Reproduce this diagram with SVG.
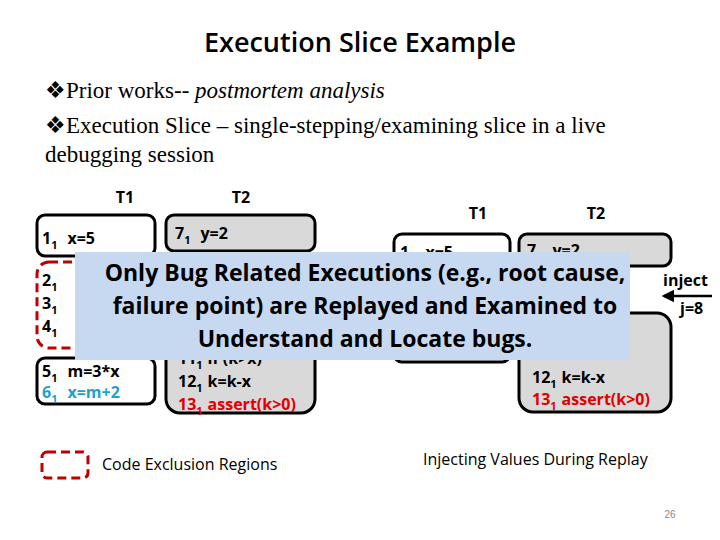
<svg xmlns="http://www.w3.org/2000/svg" width="720" height="540" viewBox="0 0 720 540">
<style>
.c{font-family:"Open Sans","Liberation Sans",sans-serif;font-weight:bold;font-size:16px;fill:#000}
.t{font-family:"Liberation Serif",serif;font-size:23px;fill:#000}
.w{fill:#fff;stroke:#000;stroke-width:3}
.g{fill:#d9d9d9;stroke:#000;stroke-width:3}
.s{font-size:11px}
.o{font-family:"Open Sans","Liberation Sans",sans-serif;font-weight:bold;font-size:23px}
</style>
<defs><marker id="a" markerWidth="5" markerHeight="5" refX="4" refY="2.5" orient="auto"><path d="M0,0L5,2.5L0,5z" fill="#000"/></marker></defs>
<rect width="720" height="540" fill="#fff"/>
<text x="360" y="52" text-anchor="middle" font-family="Open Sans,Liberation Sans,sans-serif" font-weight="600" font-size="27">Execution Slice Example</text>
<text class="t" x="45" y="98">❖Prior works-- <tspan font-style="italic">postmortem analysis</tspan></text>
<text class="t" x="45" y="133">❖Execution Slice – single-stepping/examining slice in a live</text>
<text class="t" x="45" y="162">debugging session</text>
<g id="left">
<text class="c" x="125" y="203" text-anchor="middle">T1</text>
<text class="c" x="241" y="203" text-anchor="middle">T2</text>
<rect class="w" x="37" y="215" width="118" height="41" rx="8"/>
<text class="c" x="42" y="244">1<tspan class="s" dy="5">1</tspan><tspan dy="-5" dx="10">x=5</tspan></text>
<rect x="37" y="262" width="118" height="86" rx="12" fill="#fff" stroke="#c00000" stroke-width="3" stroke-dasharray="9,5"/>
<text class="c" x="42" y="286">2<tspan class="s" dy="5">1</tspan></text>
<text class="c" x="42" y="309">3<tspan class="s" dy="5">1</tspan></text>
<text class="c" x="42" y="332">4<tspan class="s" dy="5">1</tspan></text>
<rect class="w" x="37" y="358" width="118" height="46" rx="8"/>
<text class="c" x="42" y="377">5<tspan class="s" dy="5">1</tspan><tspan dy="-5" dx="10">m=3*x</tspan></text>
<text class="c" x="42" y="398" style="fill:#1fa0d0">6<tspan class="s" dy="5">1</tspan><tspan dy="-5" dx="10">x=m+2</tspan></text>
<rect class="g" x="166" y="215" width="149" height="36" rx="8"/>
<text class="c" x="175" y="239">7<tspan class="s" dy="5">1</tspan><tspan dy="-5" dx="10">y=2</tspan></text>
<rect class="g" x="166" y="258" width="149" height="155" rx="14"/>
<text class="c" x="178" y="364">11<tspan class="s" dy="5">1</tspan><tspan dy="-5" dx="5">if (k&gt;x)</tspan></text>
<text class="c" x="178" y="387">12<tspan class="s" dy="5">1</tspan><tspan dy="-5" dx="5">k=k-x</tspan></text>
<text class="c" x="178" y="410" style="fill:#e00000">13<tspan class="s" dy="5">1</tspan><tspan dy="-5" dx="5">assert(k&gt;0)</tspan></text>
</g>
<g id="right">
<text class="c" x="478" y="219" text-anchor="middle">T1</text>
<text class="c" x="596" y="219" text-anchor="middle">T2</text>
<rect class="w" x="394" y="234" width="116" height="128" rx="8"/>
<text class="c" x="400" y="258">1<tspan class="s" dy="5">1</tspan><tspan dy="-5" dx="10">x=5</tspan></text>
<rect class="g" x="519" y="234" width="152" height="32" rx="8"/>
<text class="c" x="527" y="256">7<tspan class="s" dy="5">1</tspan><tspan dy="-5" dx="10">y=2</tspan></text>
<rect class="g" x="519" y="313" width="152" height="99" rx="14"/>
<text class="c" x="532" y="383">12<tspan class="s" dy="5">1</tspan><tspan dy="-5" dx="5">k=k-x</tspan></text>
<text class="c" x="532" y="405" style="fill:#e00000">13<tspan class="s" dy="5">1</tspan><tspan dy="-5" dx="5">assert(k&gt;0)</tspan></text>
<text class="c" x="663" y="286">inject</text>
<text class="c" x="680" y="314">j=8</text>
</g>
<g id="connectors">
<line x1="712" y1="296" x2="664" y2="296" stroke="#000" stroke-width="2.5" marker-end="url(#a)"/>
</g>
<g id="overlay">
<rect x="75" y="252" width="555" height="108" fill="#c6d9f1"/>
<text class="o" x="365" y="281" text-anchor="middle">Only Bug Related Executions (e.g., root cause,</text>
<text class="o" x="365" y="314" text-anchor="middle">failure point) are Replayed and Examined to</text>
<text class="o" x="365" y="347" text-anchor="middle">Understand and Locate bugs.</text>
</g>
<g id="legend">
<rect x="42" y="452" width="46" height="26" rx="5" fill="none" stroke="#c00000" stroke-width="3" stroke-dasharray="9,5"/>
<text class="c" x="102" y="470" style="font-weight:normal">Code Exclusion Regions</text>
<text class="c" x="423" y="465" style="font-weight:normal">Injecting Values During Replay</text>
<text x="670" y="518" font-family="Liberation Sans,sans-serif" font-size="10" fill="#888" text-anchor="middle">26</text>
</g>
</svg>
